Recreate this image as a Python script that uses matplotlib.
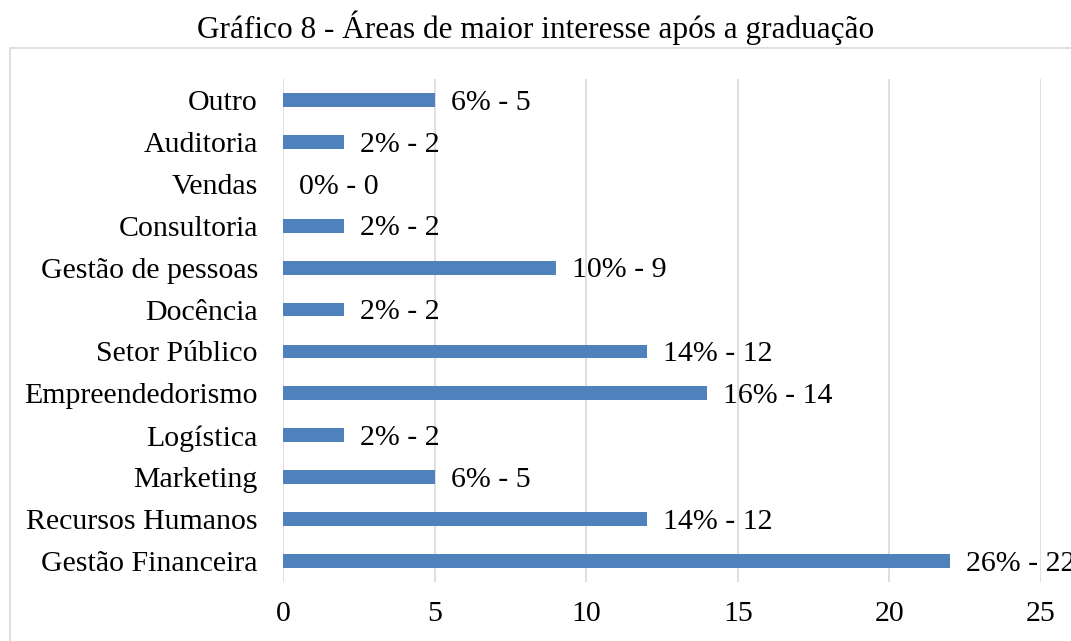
import matplotlib.pyplot as plt
from matplotlib.patches import Rectangle

categorias = ["Gestão Financeira", "Recursos Humanos", "Marketing", "Logística",
              "Empreendedorismo", "Setor Público", "Docência", "Gestão de pessoas",
              "Consultoria", "Vendas", "Auditoria", "Outro"]
valores = [22, 12, 5, 2, 14, 12, 2, 9, 2, 0, 2, 5]
percentuais = [26, 14, 6, 2, 16, 14, 2, 10, 2, 0, 2, 6]

plt.rcParams['font.family'] = ['Liberation Serif', 'DejaVu Serif']

fig = plt.figure(figsize=(10.71, 6.41), dpi=100)
ax = fig.add_axes([0.2642, 0.092, 0.972 - 0.2642, 0.8768 - 0.092])

# moldura cinza do gráfico (cortada na direita e embaixo)
fig.patches.append(Rectangle((10 / 1071, -0.05), 1.1, 1 - 48 / 641 + 0.05,
                             transform=fig.transFigure, fill=False,
                             edgecolor='#d9d9d9', linewidth=1.2))

y = range(len(categorias))
ax.barh(y, valores, height=0.33, color='#4f81bd', zorder=3)

for i, (v, p) in enumerate(zip(valores, percentuais)):
    ax.annotate('%d%% - %d' % (p, v), (v, i), xytext=(11.5, -2),
                textcoords='offset points', va='center', ha='left',
                fontsize=21.5, annotation_clip=False)

ax.set_xlim(0, 25)
ax.set_ylim(-0.5, len(categorias) - 0.5)
ax.set_xticks([0, 5, 10, 15, 20, 25])
ax.set_yticks(list(y))
ax.set_yticklabels(categorias)
ax.tick_params(axis='both', length=0, labelsize=21.5)
ax.tick_params(axis='y', pad=18)
ax.tick_params(axis='x', pad=14)
ax.grid(axis='x', color='#d9d9d9', linewidth=1.2, zorder=0)
for s in ax.spines.values():
    s.set_visible(False)

fig.text(0.5, 1 - 28 / 641, 'Gráfico 8 - Áreas de maior interesse após a graduação',
         ha='center', va='center', fontsize=22.5)

fig.savefig('out.png', dpi=100)
